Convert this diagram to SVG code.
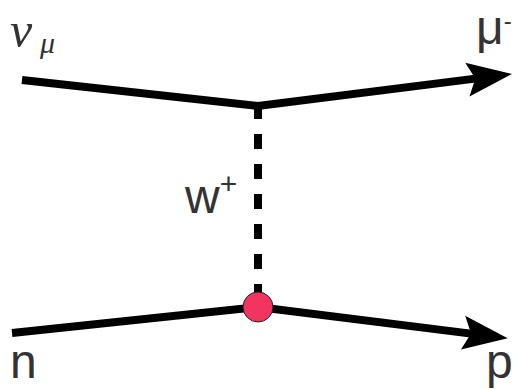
<svg xmlns="http://www.w3.org/2000/svg" width="520" height="389" viewBox="0 0 520 389">
<style>
.line{fill:none;stroke:#000;stroke-width:8;stroke-linecap:butt;stroke-linejoin:miter}
.dash{fill:none;stroke:#000;stroke-width:8;stroke-dasharray:15 15}
.lbl{font-family:"Liberation Sans",Arial,sans-serif;fill:#333;font-size:48px}
.greek{font-family:"Liberation Serif","Times New Roman",serif;font-style:italic;fill:#333}
</style>
<defs>
<marker id="arrow" viewBox="-10 -20 50 40" refX="0" refY="0" markerWidth="50" markerHeight="40" markerUnits="userSpaceOnUse" orient="auto">
<path d="M37,0 L-8,-17 L0,0 L-8,17 Z" fill="#000"/>
</marker>
</defs>
<rect width="520" height="389" fill="#fff"/>
<g id="connectors">
<path class="line" d="M22,80 L258,106 L475.3,78.6" marker-end="url(#arrow)"/>
<path class="line" d="M12,333 L258,307 L471,333.6" marker-end="url(#arrow)"/>
<line class="dash" x1="258" y1="104" x2="258" y2="300"/>
</g>
<g id="vertex">
<circle cx="258" cy="307" r="15" fill="#f23560" stroke="#222" stroke-width="1"/>
</g>
<g id="label-nu">
<text class="greek" x="10" y="47" font-size="50">ν</text>
<text class="greek" x="40" y="53" font-size="30">μ</text>
</g>
<g id="label-mu">
<text class="lbl" x="476" y="44">μ<tspan font-size="24" dy="-15">-</tspan></text>
</g>
<g id="label-w">
<text class="lbl" x="185" y="213">w<tspan font-size="30" dy="-19">+</tspan></text>
</g>
<g id="label-n">
<text class="lbl" x="10" y="378">n</text>
</g>
<g id="label-p">
<text class="lbl" x="486" y="378">p</text>
</g>
</svg>
